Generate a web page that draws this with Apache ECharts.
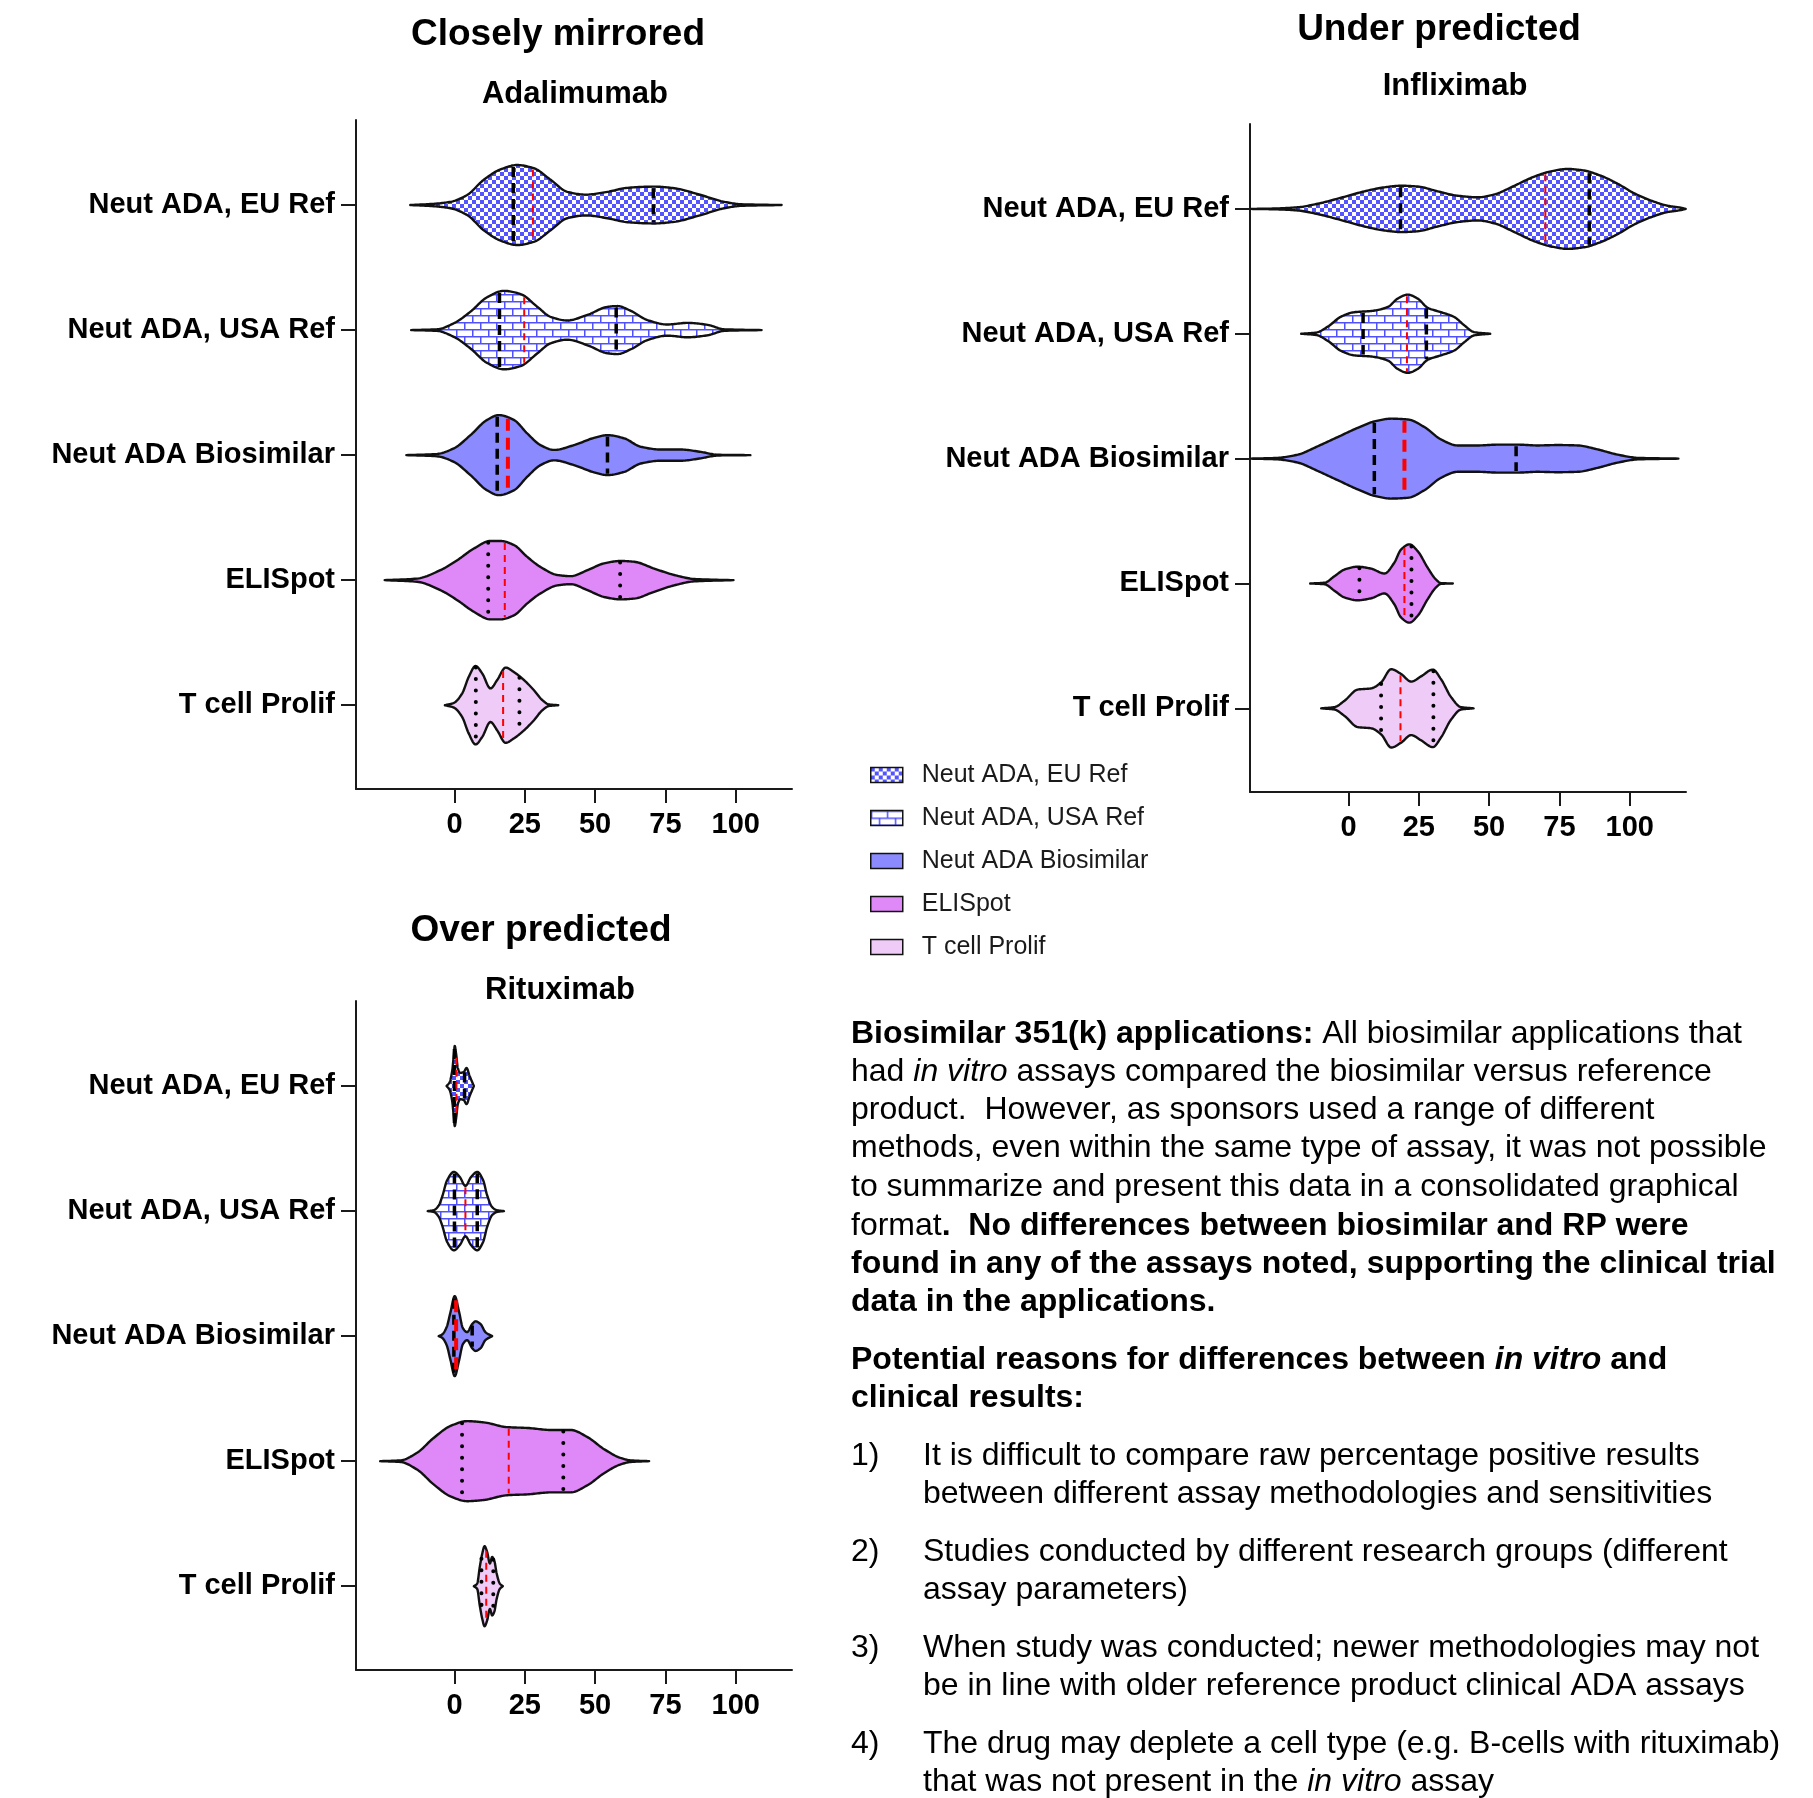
<!DOCTYPE html>
<html>
<head>
<meta charset="utf-8">
<script src="https://cdn.jsdelivr.net/npm/echarts@6/dist/echarts.min.js"></script>
<style>
html, body { margin: 0; padding: 0; background: #fff; }
#chart { width: 1813px; height: 1798px; }
</style>
</head>
<body>
<div id="chart"></div>
<script>
// ---- data ---------------------------------------------------------------
const categories = ['Neut ADA, EU Ref', 'Neut ADA, USA Ref', 'Neut ADA Biosimilar', 'ELISpot', 'T cell Prolif'];
const categoryPositions = [1, 2, 3, 4, 5];
const xTickValues = [0, 25, 50, 75, 100];

// Violin profiles: [% positive, relative density (peak = 1)]
// Adalimumab
const adaEuRef = [[-15.7,0],[-7.4,0.03],[-1.4,0.08],[4.5,0.25],[10.4,0.63],[16.4,0.89],[22.3,1.0],[28.2,0.92],[34.2,0.63],[40.1,0.33],[46.7,0.26],[54.4,0.33],[61.5,0.43],[71,0.46],[78.1,0.42],[87.6,0.25],[95.9,0.08],[101.9,0.02],[116.3,0]];
const adaUsaRef = [[-15.4,0],[-6.2,0.02],[-0.2,0.17],[5.7,0.46],[11.6,0.82],[17.6,0.98],[23.5,0.9],[29.5,0.58],[34.2,0.33],[40.1,0.24],[47.3,0.38],[54.4,0.58],[57.9,0.6],[62.7,0.48],[68.6,0.25],[75.7,0.14],[82.9,0.18],[90,0.13],[95.9,0.02],[109.2,0]];
const adaBiosimilar = [[-17.1,0],[-6.2,0.03],[-0.2,0.17],[5.7,0.5],[11.6,0.88],[15.8,1.0],[21.1,0.88],[25.9,0.54],[30.6,0.25],[35.4,0.13],[42.5,0.25],[49.6,0.43],[54.4,0.5],[60.3,0.42],[66.2,0.21],[73.4,0.14],[80.5,0.14],[87.6,0.08],[93.6,0.01],[105.2,0]];
const adaElispot = [[-24.8,0],[-13.3,0.04],[-5,0.25],[1,0.5],[6.9,0.79],[12.8,0.98],[16.4,0.98],[21.1,0.88],[25.9,0.58],[30.6,0.33],[36.6,0.13],[41.3,0.1],[47.3,0.25],[53.2,0.42],[59.1,0.48],[63.9,0.46],[71,0.29],[78.1,0.13],[85.2,0.03],[99.2,0]];
const adaTcell = [[-3.4,0],[-0.2,0.06],[2.7,0.29],[5.1,0.71],[7.5,0.98],[9.9,0.79],[12.8,0.42],[15.2,0.63],[18.2,0.94],[21.1,0.83],[24.7,0.63],[28.2,0.38],[31.2,0.13],[33.6,0.02],[36.9,0]];
const adaQuartiles = [[20.9, 70.7], [16.0, 57.5], [15.2, 54.4], [12.0, 58.9], [7.6, 23.1]];
const adaMedians = [27.9, 24.8, 19.0, 17.9, 17.3];

// Infliximab
const infEuRef = [[-34.6,0],[-26.3,0.01],[-18,0.04],[-10.9,0.13],[-2.6,0.28],[5.7,0.44],[12.8,0.54],[18.7,0.58],[24.6,0.56],[31.7,0.44],[38.8,0.33],[46,0.29],[51.8,0.36],[59,0.58],[66.1,0.81],[72,0.94],[77.9,1.0],[83.8,0.96],[89.7,0.83],[95.7,0.63],[101.6,0.39],[107.5,0.21],[113.4,0.08],[118.1,0.03],[119.9,0]];
const infUsaRef = [[-16.8,0],[-11.5,0.03],[-7.3,0.18],[-2.6,0.43],[2.1,0.54],[8.1,0.57],[14,0.67],[17.5,0.88],[21.1,0.98],[24.6,0.88],[28.2,0.65],[32.9,0.54],[37.6,0.42],[41.2,0.21],[44.7,0.04],[50.4,0]];
const infBiosimilar = [[-34.6,0],[-25.1,0.02],[-18,0.1],[-10.9,0.31],[-3.8,0.54],[3.3,0.77],[9.2,0.93],[15.2,1.0],[21.1,0.98],[27,0.79],[32.9,0.48],[38.8,0.33],[46,0.33],[53.1,0.35],[60.2,0.35],[67.3,0.33],[74.4,0.34],[81.5,0.33],[88.6,0.23],[95.7,0.1],[102.8,0.02],[117.3,0]];
const infElispot = [[-13.6,0],[-8.5,0.02],[-5,0.18],[-1.4,0.35],[3.3,0.42],[8.1,0.37],[12.8,0.25],[16.3,0.52],[18.7,0.85],[21.7,0.98],[24.6,0.81],[28.2,0.39],[31.1,0.1],[32.9,0.01],[37.1,0]];
const infTcell = [[-9.7,0],[-5,0.03],[-1.4,0.19],[3.3,0.47],[8.1,0.5],[11.6,0.65],[15.2,0.98],[18.7,0.86],[22.3,0.67],[25.8,0.8],[30,0.97],[32.9,0.73],[36.5,0.28],[40,0.03],[44.5,0]];
const infQuartiles = [[18.5, 85.6], [5.2, 27.7], [9.2, 59.6], [3.9, 22.4], [11.6, 30.2]];
const infMedians = [70.0, 20.8, 19.9, 19.9, 18.5];

// Rituximab
const ritEuRef = [[-2.8,0],[-1.7,0.1],[-0.8,0.38],[-0.2,0.8],[0.1,1.0],[0.6,0.8],[1.2,0.45],[2.1,0.33],[3.3,0.35],[4.3,0.45],[5.4,0.25],[6.9,0]];
const ritUsaRef = [[-9.5,0],[-7.4,0.02],[-5.6,0.14],[-4.4,0.35],[-2.6,0.77],[-0.2,0.98],[1.9,0.85],[3.9,0.63],[5.9,0.85],[8.1,0.98],[10.2,0.77],[11.6,0.4],[13.4,0.1],[15.2,0.02],[17.6,0]];
const ritBiosimilar = [[-5.6,0],[-4.4,0.04],[-2.8,0.22],[-1.4,0.6],[0.1,1.0],[1.6,0.62],[3.0,0.2],[4.5,0.1],[6.3,0.3],[7.5,0.37],[9.3,0.3],[11.0,0.1],[13.4,0]];
const ritElispot = [[-26.4,0],[-19.2,0.02],[-13.3,0.21],[-7.4,0.58],[-1.4,0.88],[4.5,1.0],[10.4,0.97],[18.8,0.85],[25.9,0.83],[34.2,0.78],[41.3,0.78],[47.3,0.6],[53.2,0.3],[59.1,0.08],[62.7,0.02],[69.2,0]];
const ritTcell = [[6.9,0],[8.1,0.07],[9,0.48],[9.9,0.82],[10.7,1.0],[11.6,0.86],[12.6,0.57],[13.4,0.73],[14.2,0.63],[15,0.32],[16.1,0.07],[17.2,0]];
const ritQuartiles = [[0.0, 3.6], [0.0, 8.1], [-0.2, 6.3], [2.7, 38.7], [9.6, 13.8]];
const ritMedians = [0.7, 3.9, 0.6, 19.3, 11.3];

const panelTitles = ['Closely mirrored', 'Under predicted', 'Over predicted'];
const drugNames = ['Adalimumab', 'Infliximab', 'Rituximab'];

const noteLines = [
  '{b|Biosimilar 351(k) applications:} All biosimilar applications that',
  'had {i|in vitro} assays compared the biosimilar versus reference',
  'product.  However, as sponsors used a range of different',
  'methods, even within the same type of assay, it was not possible',
  'to summarize and present this data in a consolidated graphical',
  'format{b|.  No differences between biosimilar and RP were}',
  '{b|found in any of the assays noted, supporting the clinical trial}',
  '{b|data in the applications.}',
  '{b|Potential reasons for differences between }{bi|in vitro}{b| and}',
  '{b|clinical results:}'
];
const reasonNumbers = ['1)', '2)', '3)', '4)'];
const reasonLines = [
  ['It is difficult to compare raw percentage positive results', 'between different assay methodologies and sensitivities'],
  ['Studies conducted by different research groups (different', 'assay parameters)'],
  ['When study was conducted; newer methodologies may not', 'be in line with older reference product clinical ADA assays'],
  ['The drug may deplete a cell type (e.g. B-cells with rituximab)', 'that was not present in the {i|in vitro} assay']
];

// ---- drawing helpers -----------------------------------------------------
const FONT = "'Liberation Sans', Arial, Helvetica, sans-serif";

function checkerPattern() {
  const c = document.createElement('canvas');
  c.width = 8; c.height = 8;
  const g = c.getContext('2d');
  g.fillStyle = '#ffffff'; g.fillRect(0, 0, 8, 8);
  g.fillStyle = '#5353ff';
  g.fillRect(0, 0, 4, 4); g.fillRect(4, 4, 4, 4);
  return { image: c, repeat: 'repeat' };
}
function brickPattern() {
  const c = document.createElement('canvas');
  c.width = 16; c.height = 14;
  const g = c.getContext('2d');
  g.fillStyle = '#ffffff'; g.fillRect(0, 0, 16, 14);
  g.strokeStyle = '#5050ff'; g.lineWidth = 1.5;
  g.beginPath();
  g.moveTo(0, 0.75); g.lineTo(16, 0.75);
  g.moveTo(0, 7.75); g.lineTo(16, 7.75);
  g.moveTo(0.75, 0); g.lineTo(0.75, 7.75);
  g.moveTo(8.75, 7.75); g.lineTo(8.75, 14);
  g.stroke();
  return { image: c, repeat: 'repeat' };
}

const fills = [checkerPattern(), brickPattern(), '#8b8bff', '#df88f7', '#efcbf7'];
const quartileStyles = [
  { stroke: '#000', lineWidth: 3.5, lineDash: [10, 6], lineCap: 'butt' },
  { stroke: '#000', lineWidth: 3.5, lineDash: [10, 6], lineCap: 'butt' },
  { stroke: '#000', lineWidth: 3.5, lineDash: [10, 6], lineCap: 'butt' },
  { stroke: '#000', lineWidth: 4, lineDash: [0.01, 11.5], lineCap: 'round' },
  { stroke: '#000', lineWidth: 4, lineDash: [0.01, 11.5], lineCap: 'round' }
];
const medianStyles = [
  { stroke: '#ff0000', lineWidth: 2, lineDash: [7, 5] },
  { stroke: '#ff0000', lineWidth: 2, lineDash: [7, 5] },
  { stroke: '#ff0000', lineWidth: 4, lineDash: [12, 7] },
  { stroke: '#ff0000', lineWidth: 2, lineDash: [7, 5] },
  { stroke: '#ff0000', lineWidth: 2, lineDash: [7, 5] }
];
const HALF_WIDTH = 0.32; // half width of a violin at peak density, in category units

// Monotone cubic (Fritsch-Carlson) interpolation of a density profile
function monotone(profile) {
  const xs = profile.map(p => p[0]), ys = profile.map(p => p[1]);
  const n = xs.length, dx = [], m = [], t = [];
  for (let i = 0; i < n - 1; i++) { dx[i] = xs[i + 1] - xs[i]; m[i] = (ys[i + 1] - ys[i]) / dx[i]; }
  t[0] = m[0];
  for (let i = 1; i < n - 1; i++) {
    if (m[i - 1] * m[i] <= 0) t[i] = 0;
    else {
      const w1 = 2 * dx[i] + dx[i - 1], w2 = dx[i] + 2 * dx[i - 1];
      t[i] = (w1 + w2) / (w1 / m[i - 1] + w2 / m[i]);
    }
  }
  t[n - 1] = m[n - 2];
  const f = function (x) {
    if (x <= xs[0] || x >= xs[n - 1]) return 0;
    let i = 0;
    while (i < n - 2 && x > xs[i + 1]) i++;
    const h = dx[i], s = (x - xs[i]) / h;
    const h00 = 2 * s * s * s - 3 * s * s + 1, h10 = s * s * s - 2 * s * s + s;
    const h01 = -2 * s * s * s + 3 * s * s, h11 = s * s * s - s * s;
    return Math.max(0, h00 * ys[i] + h10 * h * t[i] + h01 * ys[i + 1] + h11 * h * t[i + 1]);
  };
  f.samples = function () {
    const out = [];
    for (let i = 0; i < n - 1; i++) {
      const steps = 14;
      for (let k = 0; k < steps; k++) out.push(xs[i] + dx[i] * k / steps);
    }
    out.push(xs[n - 1]);
    return out;
  };
  return f;
}

function violinRender(profile, quartiles, median, idx) {
  const dens = monotone(profile);
  const xsSamples = dens.samples();
  return function (params, api) {
    const pos = api.value(1);
    const upper = [], lower = [];
    xsSamples.forEach(v => {
      const d = v === xsSamples[0] || v === xsSamples[xsSamples.length - 1] ? 0 : dens(v);
      upper.push(api.coord([v, pos - d * HALF_WIDTH]));
      lower.push(api.coord([v, pos + d * HALF_WIDTH]));
    });
    const points = upper.concat(lower.reverse());
    const children = [{
      type: 'polygon',
      shape: { points: points },
      style: { fill: fills[idx], stroke: '#111', lineWidth: 2.4, lineJoin: 'round' },
      z2: 1
    }];
    const statLine = (v, style, z) => {
      const d = dens(v) * HALF_WIDTH;
      const a = api.coord([v, pos - d]), b = api.coord([v, pos + d]);
      children.push({
        type: 'line',
        shape: { x1: a[0], y1: a[1] + 1.5, x2: b[0], y2: b[1] - 1.5 },
        style: Object.assign({ fill: null }, style),
        z2: z
      });
    };
    statLine(quartiles[0], quartileStyles[idx], 2);
    statLine(quartiles[1], quartileStyles[idx], 2);
    statLine(median, medianStyles[idx], 3);
    return { type: 'group', children: children };
  };
}

const panels = [
  { profiles: [adaEuRef, adaUsaRef, adaBiosimilar, adaElispot, adaTcell], quart: adaQuartiles, med: adaMedians },
  { profiles: [infEuRef, infUsaRef, infBiosimilar, infElispot, infTcell], quart: infQuartiles, med: infMedians },
  { profiles: [ritEuRef, ritUsaRef, ritBiosimilar, ritElispot, ritTcell], quart: ritQuartiles, med: ritMedians }
];

const grids = [
  { left: 356, top: 120, width: 436, height: 669 },
  { left: 1250, top: 124, width: 436, height: 668 },
  { left: 356, top: 1001, width: 436, height: 669 }
];

const axisLabelStyle = { color: '#000', fontFamily: FONT, fontWeight: 'bold', fontSize: 29 };
const axisLineStyle = { show: true, onZero: false, lineStyle: { color: '#1a1a1a', width: 2 } };

const xAxes = grids.map((g, i) => ({
  type: 'value', gridIndex: i, min: -35, max: 120,
  axisLine: axisLineStyle,
  axisTick: { show: true, customValues: xTickValues, length: 14, lineStyle: { color: '#1a1a1a', width: 2 } },
  axisLabel: Object.assign({ customValues: xTickValues, margin: 21 }, axisLabelStyle),
  splitLine: { show: false }
}));
const yAxes = grids.map((g, i) => ({
  type: 'value', gridIndex: i, inverse: true, min: 0.32, max: 5.67,
  axisLine: axisLineStyle,
  axisTick: { show: true, customValues: categoryPositions, length: 15, lineStyle: { color: '#1a1a1a', width: 2 } },
  axisLabel: Object.assign({
    customValues: categoryPositions, margin: 21,
    formatter: v => categories[Math.round(v) - 1] || ''
  }, axisLabelStyle),
  splitLine: { show: false }
}));

const series = [];
panels.forEach((p, gi) => {
  p.profiles.forEach((prof, ci) => {
    series.push({
      type: 'custom',
      name: categories[ci],
      xAxisIndex: gi, yAxisIndex: gi,
      coordinateSystem: 'cartesian2d',
      itemStyle: { color: fills[ci] },
      encode: { x: 0, y: 1 },
      data: [[prof[0][0], categoryPositions[ci]]],
      renderItem: violinRender(prof, p.quart[ci], p.med[ci], ci),
      silent: true
    });
  });
});

// ---- text ----------------------------------------------------------------
const graphics = [];
function addText(x, y, text, font, align, rich) {
  const style = {
    text: text, x: 0, y: 0, fill: '#000', font: font,
    align: align || 'left', verticalAlign: 'middle',
    textAlign: align || 'left', textVerticalAlign: 'middle'
  };
  if (rich) style.rich = rich;
  graphics.push({ type: 'text', x: x, y: y, style: style, silent: true });
}
const titleFont = 'bold 37px ' + FONT;
const drugFont = 'bold 31px ' + FONT;
addText(558, 35, panelTitles[0], titleFont, 'center');
addText(575, 94, drugNames[0], drugFont, 'center');
addText(1439, 30, panelTitles[1], titleFont, 'center');
addText(1455, 86, drugNames[1], drugFont, 'center');
addText(541, 931, panelTitles[2], titleFont, 'center');
addText(560, 990, drugNames[2], drugFont, 'center');

const bodyRich = {
  b: { fontFamily: FONT, fontSize: 32, fontWeight: 'bold', fill: '#000' },
  i: { fontFamily: FONT, fontSize: 32, fontStyle: 'italic', fill: '#000' },
  bi: { fontFamily: FONT, fontSize: 32, fontWeight: 'bold', fontStyle: 'italic', fill: '#000' }
};
const bodyFont = '32px ' + FONT;
const noteY = [1034, 1072, 1110, 1148, 1187, 1226, 1264, 1302, 1360, 1398];
noteLines.forEach((t, i) => addText(851, noteY[i], t, bodyFont, 'left', bodyRich));
const reasonY = [1456, 1552, 1648, 1744];
reasonNumbers.forEach((num, i) => {
  addText(851, reasonY[i], num, bodyFont, 'left');
  addText(923, reasonY[i], reasonLines[i][0], bodyFont, 'left', bodyRich);
  addText(923, reasonY[i] + 38, reasonLines[i][1], bodyFont, 'left', bodyRich);
});

const chart = echarts.init(document.getElementById('chart'), null, { renderer: 'canvas' });
chart.setOption({
  backgroundColor: '#ffffff',
  animation: false,
  grid: grids,
  xAxis: xAxes,
  yAxis: yAxes,
  legend: {
    orient: 'vertical',
    left: 870, top: 762,
    padding: 0,
    itemWidth: 32, itemHeight: 15, itemGap: 17,
    selectedMode: false,
    icon: 'rect',
    textStyle: { color: '#1a1a1a', fontFamily: FONT, fontSize: 25, lineHeight: 26, padding: [0, 0, 0, 14] },
    data: categories.map((c, i) => ({
      name: c, icon: 'rect',
      itemStyle: { color: fills[i], borderColor: '#111', borderWidth: 1.5 }
    }))
  },
  series: series,
  graphic: graphics
});
</script>
</body>
</html>
